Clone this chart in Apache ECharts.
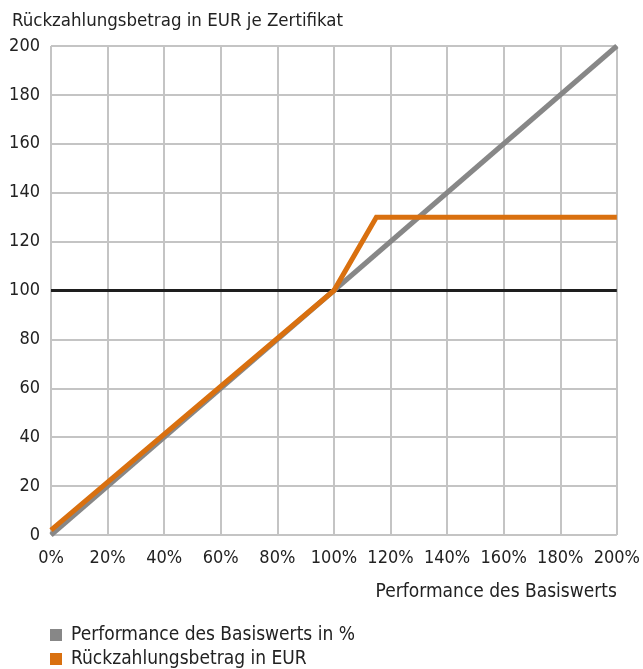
<!DOCTYPE html>
<html>
<head>
<meta charset="utf-8">
<script src="https://cdn.jsdelivr.net/npm/echarts@6/dist/echarts.min.js"></script>
<style>
  html, body { margin: 0; padding: 0; background: #fff; }
  #chart { width: 643px; height: 669px; }
</style>
</head>
<body>
<div id="chart"></div>
<script>
/* Rückzahlungsprofil Zertifikat */
var seriesNames = ['Performance des Basiswerts in %', 'Rückzahlungsbetrag in EUR'];
var performancePts = [[0, 0], [200, 200]];
var rueckzahlungPts = [[0, 2], [100, 100], [115, 130], [200, 130]];
var referenzLinie = [[0, 100], [200, 100]];
var xTicks = [0, 20, 40, 60, 80, 100, 120, 140, 160, 180, 200];
var yTicks = [0, 20, 40, 60, 80, 100, 120, 140, 160, 180, 200];

(function(){
	var font = '"Liberation Sans Narrow", "DejaVu Sans Condensed", Roboto, sans-serif';
	var myChart = echarts.init(document.getElementById('chart'));
	var option = {
		animation: false,
		title: {
			text: 'Rückzahlungsbetrag in EUR je Zertifikat',
			left: 7,
			top: 7,
			textStyle: { fontFamily: font, fontSize: 18.5, fontWeight: 'normal', color: '#222' }
		},
		legend: {
			data: seriesNames,
			orient: 'vertical',
			left: 50,
			top: 625,
			height: 80,
			padding: 0,
			icon: 'rect',
			itemWidth: 12,
			itemHeight: 12,
			itemGap: 4,
			textStyle: { fontFamily: font, fontSize: 19, color: '#222', lineHeight: 20, padding: [0, 0, 0, 4] }
		},
		grid: { left: 51, right: 25, top: 46, bottom: 134 },
		xAxis: {
			type: 'value',
			min: xTicks[0],
			max: xTicks[xTicks.length - 1],
			interval: 20,
			name: 'Performance des Basiswerts',
			nameLocation: 'end',
			nameGap: 0,
			nameTextStyle: { fontFamily: font, fontSize: 19, color: '#222', align: 'right', verticalAlign: 'top', padding: [48, 0, 0, 0] },
			axisLine: { show: false },
			axisTick: { show: false },
			axisLabel: { formatter: '{value}%', margin: 14, fontFamily: font, fontSize: 18, color: '#222' },
			splitLine: { show: true, lineStyle: { color: '#c4c4c4', width: 2 } }
		},
		yAxis: {
			type: 'value',
			min: yTicks[0],
			max: yTicks[yTicks.length - 1],
			interval: 20,
			axisLine: { show: false },
			axisTick: { show: false },
			axisLabel: { margin: 11, fontFamily: font, fontSize: 18, color: '#222' },
			splitLine: { show: true, lineStyle: { color: '#c4c4c4', width: 2 } }
		},
		series: [
			{
				name: 'Referenz',
				type: 'line',
				data: referenzLinie,
				symbol: 'none',
				lineStyle: { color: '#1e1e1e', width: 3 },
				z: 2
			},
			{
				name: seriesNames[0],
				type: 'line',
				data: performancePts,
				symbol: 'none',
				itemStyle: { color: '#878787' },
				lineStyle: { color: '#878787', width: 5 },
				z: 3
			},
			{
				name: seriesNames[1],
				type: 'line',
				data: rueckzahlungPts,
				symbol: 'none',
				itemStyle: { color: '#d9700f' },
				lineStyle: { color: '#d9700f', width: 5, join: 'miter' },
				z: 4
			}
		]
	};
	myChart.setOption(option);
})();
</script>
</body>
</html>
